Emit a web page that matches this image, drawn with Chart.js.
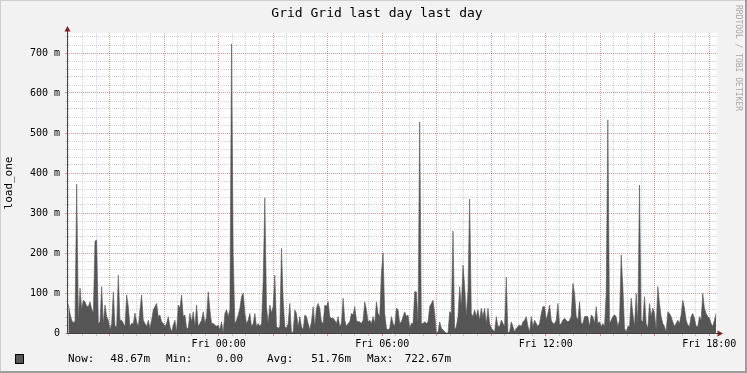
<!DOCTYPE html>
<html>
<head>
<meta charset="utf-8">
<title>Grid Grid last day last day</title>
<script src="https://cdn.jsdelivr.net/npm/chart.js@4.4.1/dist/chart.umd.min.js"></script>
<style>
  html, body { margin: 0; padding: 0; background: #f2f2f2; }
  canvas { display: block; }
</style>
</head>
<body>
<canvas id="load-chart" width="747" height="373"></canvas>
<script>
// load_one samples (milli-load), Thu ~18:30 -> Fri ~18:15
const loadOne = [
  72, 49, 32, 25, 30, 372, 30, 112, 60, 82,
  78, 67, 66, 78, 60, 50, 230, 232, 24, 28,
  116, 24, 70, 41, 32, 8, 24, 103, 16, 16,
  145, 32, 32, 24, 16, 95, 66, 16, 24, 24,
  50, 28, 16, 58, 95, 32, 24, 16, 32, 12,
  32, 58, 66, 74, 41, 45, 28, 24, 16, 24,
  41, 16, 3, 20, 32, 3, 70, 62, 95, 41,
  45, 12, 12, 49, 28, 53, 16, 70, 16, 24,
  32, 53, 24, 40, 103, 58, 24, 24, 20, 16,
  20, 8, 28, 0, 49, 58, 41, 58, 722.67, 193,
  24, 32, 45, 62, 91, 100, 49, 24, 32, 49,
  16, 24, 49, 16, 24, 16, 24, 132, 338, 66,
  24, 70, 50, 66, 145, 16, 12, 16, 212, 82,
  16, 12, 24, 74, 0, 3, 58, 49, 16, 41,
  16, 8, 45, 41, 24, 8, 28, 66, 16, 62,
  74, 62, 28, 24, 70, 66, 78, 41, 37, 37,
  32, 24, 41, 16, 24, 87, 32, 16, 24, 28,
  49, 45, 66, 32, 28, 28, 24, 32, 78, 58,
  28, 32, 24, 41, 24, 78, 49, 41, 150, 200,
  49, 12, 8, 12, 41, 24, 16, 62, 58, 24,
  28, 41, 53, 41, 45, 12, 24, 24, 103, 103,
  24, 528, 24, 24, 28, 24, 28, 66, 74, 82,
  49, 0, 3, 28, 12, 8, 3, 0, 0, 53,
  49, 255, 8, 16, 41, 116, 66, 170, 116, 41,
  107, 335, 49, 41, 58, 41, 58, 32, 62, 41,
  62, 24, 62, 24, 12, 8, 3, 41, 16, 16,
  32, 24, 16, 140, 0, 3, 28, 16, 3, 12,
  16, 20, 16, 28, 32, 41, 16, 3, 41, 16,
  32, 24, 16, 24, 49, 66, 66, 32, 49, 70,
  32, 24, 24, 32, 74, 20, 24, 32, 37, 32,
  28, 32, 41, 124, 99, 41, 32, 78, 24, 24,
  41, 41, 41, 16, 45, 41, 24, 66, 24, 28,
  16, 24, 16, 100, 533, 24, 32, 41, 45, 41,
  16, 32, 195, 116, 12, 3, 16, 16, 87, 49,
  16, 99, 24, 370, 32, 28, 91, 24, 12, 74,
  41, 62, 49, 8, 116, 74, 41, 24, 16, 3,
  53, 49, 41, 28, 16, 24, 32, 24, 45, 82,
  62, 32, 20, 16, 41, 49, 37, 16, 16, 41,
  32, 99, 62, 49, 41, 37, 24, 16, 32, 48.67
];

// time range in minutes relative to Fri 00:00
const sampleStart = -331;
const sampleEnd = 1095;
const axisMin = -334;
const axisMax = 1097;

const xLabelMinutes = [0, 360, 720, 1080];
const xLabels = ['Fri 00:00', 'Fri 06:00', 'Fri 12:00', 'Fri 18:00'];
const yLabelValues = [0, 100, 200, 300, 400, 500, 600, 700];
const yLabels = ['0', '100 m', '200 m', '300 m', '400 m', '500 m', '600 m', '700 m'];

const legendNames = ['Now:', 'Min:', 'Avg:', 'Max:'];
const legendValues = ['48.67m', '0.00', '51.76m', '722.67m'];

const MONO = '"DejaVu Sans Mono", "Liberation Mono", monospace';
const AREA = '#555555';
const GRID_MINOR = 'rgba(143, 143, 143, 0.4)';
const GRID_MAJOR = 'rgba(222, 79, 79, 0.6)';
const AXIS = '#444444';
const ARROW = '#801f1f';

const step = (sampleEnd - sampleStart) / (loadOne.length - 1);
const points = loadOne.map((v, i) => ({ x: sampleStart + i * step, y: v }));

// grid: minor every 30 min / 20 m, major every 2 h / 100 m
const xMinorTicks = [];
const xMajorTicks = [];
for (let m = -330; m <= 1080; m += 30) (m % 120 === 0 ? xMajorTicks : xMinorTicks).push(m);
const yMinorTicks = [];
const yMajorTicks = [];
for (let v = 0; v <= 740; v += 20) (v % 100 === 0 ? yMajorTicks : yMinorTicks).push(v);

// rrdtool look: background, canvas, shading, arrows, legend, watermark
const rrdFrame = {
  id: 'rrdFrame',
  beforeDraw(chart) {
    const { ctx, chartArea: a, width, height } = chart;
    ctx.save();
    ctx.fillStyle = '#f2f2f2';
    ctx.fillRect(0, 0, width, height);
    ctx.fillStyle = '#cfcfcf';
    ctx.fillRect(0, 0, width, 1);
    ctx.fillRect(0, 0, 1, height);
    ctx.fillStyle = '#9e9e9e';
    ctx.fillRect(width - 2, 0, 2, height);
    ctx.fillRect(0, height - 2, width, 2);
    ctx.fillStyle = '#ffffff';
    ctx.fillRect(a.left, a.top, a.right - a.left, a.bottom - a.top);

    ctx.fillStyle = '#000';
    ctx.font = '13px ' + MONO;
    ctx.textAlign = 'center';
    ctx.textBaseline = 'middle';
    ctx.fillText('Grid Grid last day last day', 377, 14);
    ctx.restore();
  },
  afterDraw(chart) {
    const { ctx, chartArea: a } = chart;
    ctx.save();
    // axis arrows
    ctx.strokeStyle = AXIS;
    ctx.lineWidth = 1;
    ctx.beginPath();
    ctx.moveTo(a.left + 0.5, a.top);
    ctx.lineTo(a.left + 0.5, a.top - 3);
    ctx.moveTo(a.right, a.bottom + 0.5);
    ctx.lineTo(a.right + 3, a.bottom + 0.5);
    ctx.stroke();
    ctx.fillStyle = ARROW;
    ctx.beginPath();
    ctx.moveTo(a.left + 0.5, a.top - 7);
    ctx.lineTo(a.left - 2.5, a.top - 1.5);
    ctx.lineTo(a.left + 3.5, a.top - 1.5);
    ctx.closePath();
    ctx.fill();
    ctx.beginPath();
    ctx.moveTo(a.right + 6, a.bottom + 0.5);
    ctx.lineTo(a.right + 0.5, a.bottom - 2.5);
    ctx.lineTo(a.right + 0.5, a.bottom + 3.5);
    ctx.closePath();
    ctx.fill();

    // legend
    ctx.fillStyle = AREA;
    ctx.fillRect(15, 354, 9, 10);
    ctx.strokeStyle = '#000';
    ctx.strokeRect(15.5, 354.5, 8, 9);
    ctx.fillStyle = '#000';
    ctx.font = '11px ' + MONO;
    ctx.textAlign = 'left';
    ctx.textBaseline = 'middle';
    const nameX = [68, 166, 267, 367];
    const valueRight = [150, 243, 351, 451];
    legendNames.forEach((n, i) => ctx.fillText(n, nameX[i], 359.5));
    ctx.textAlign = 'right';
    legendValues.forEach((v, i) => ctx.fillText(v, valueRight[i], 359.5));

    // watermark
    ctx.translate(738, 5);
    ctx.rotate(Math.PI / 2);
    ctx.fillStyle = '#a8a8a8';
    ctx.font = '8px ' + MONO;
    ctx.textAlign = 'left';
    ctx.textBaseline = 'middle';
    ctx.fillText('RRDTOOL / TOBI OETIKER', 0, 0);
    ctx.restore();
  }
};

const tickFont = { family: MONO, size: 10 };

new Chart(document.getElementById('load-chart'), {
  type: 'line',
  data: {
    datasets: [{
      label: 'load_one',
      data: points,
      xAxisID: 'x',
      yAxisID: 'y',
      fill: 'origin',
      backgroundColor: AREA,
      borderColor: AREA,
      borderWidth: 0.6,
      tension: 0,
      pointRadius: 0
    }]
  },
  options: {
    responsive: false,
    animation: false,
    devicePixelRatio: 1,
    events: [],
    layout: { padding: { left: 0, right: 30, top: 33, bottom: 20 } },
    plugins: {
      legend: { display: false },
      title: { display: false },
      tooltip: { enabled: false }
    },
    scales: {
      // minor time grid, sits right on the chart edge
      x: {
        type: 'linear',
        position: 'bottom',
        min: axisMin,
        max: axisMax,
        afterBuildTicks: scale => { scale.ticks = xMinorTicks.map(value => ({ value })); },
        afterFit: scale => { scale.height = 0; scale.paddingLeft = 0; scale.paddingRight = 0; },
        ticks: { autoSkip: false, maxRotation: 0, display: false },
        grid: { color: GRID_MINOR, tickColor: GRID_MINOR, tickLength: 3 },
        border: { display: true, color: AXIS, width: 1, dash: [1, 1], z: 1 }
      },
      // major time grid + labels
      xMajor: {
        type: 'linear',
        position: 'bottom',
        min: axisMin,
        max: axisMax,
        afterBuildTicks: scale => { scale.ticks = xMajorTicks.map(value => ({ value })); },
        afterFit: scale => { scale.height = 20; scale.paddingLeft = 0; scale.paddingRight = 0; },
        ticks: {
          autoSkip: false,
          maxRotation: 0,
          minRotation: 0,
          padding: 2,
          color: '#000',
          font: tickFont,
          callback: v => {
            const i = xLabelMinutes.indexOf(v);
            return i >= 0 ? xLabels[i] : '';
          }
        },
        grid: { color: GRID_MAJOR, tickColor: GRID_MAJOR, tickLength: 3 },
        border: { display: false, dash: [1, 1] }
      },
      y: {
        type: 'linear',
        position: 'left',
        min: 0,
        max: 750,
        afterBuildTicks: scale => { scale.ticks = yMinorTicks.map(value => ({ value })); },
        afterFit: scale => { scale.width = 0; scale.paddingTop = 0; scale.paddingBottom = 0; },
        ticks: { autoSkip: false, display: false },
        grid: { color: GRID_MINOR, tickColor: GRID_MINOR, tickLength: 2 },
        border: { display: true, color: AXIS, width: 1, dash: [1, 1], z: 1 }
      },
      yMajor: {
        type: 'linear',
        position: 'left',
        min: 0,
        max: 750,
        afterBuildTicks: scale => { scale.ticks = yMajorTicks.map(value => ({ value })); },
        afterFit: scale => { scale.width = 67; scale.paddingTop = 0; scale.paddingBottom = 0; },
        ticks: {
          autoSkip: false,
          padding: 5,
          color: '#000',
          font: tickFont,
          callback: v => {
            const i = yLabelValues.indexOf(v);
            return i >= 0 ? yLabels[i] : '';
          }
        },
        grid: { color: GRID_MAJOR, tickColor: GRID_MAJOR, tickLength: 2 },
        border: { display: false, dash: [1, 1] },
        title: {
          display: true,
          text: 'load_one',
          color: '#000',
          font: { family: MONO, size: 11 },
          padding: { top: 3, bottom: 0 }
        }
      }
    }
  },
  plugins: [rrdFrame]
});
</script>
</body>
</html>
